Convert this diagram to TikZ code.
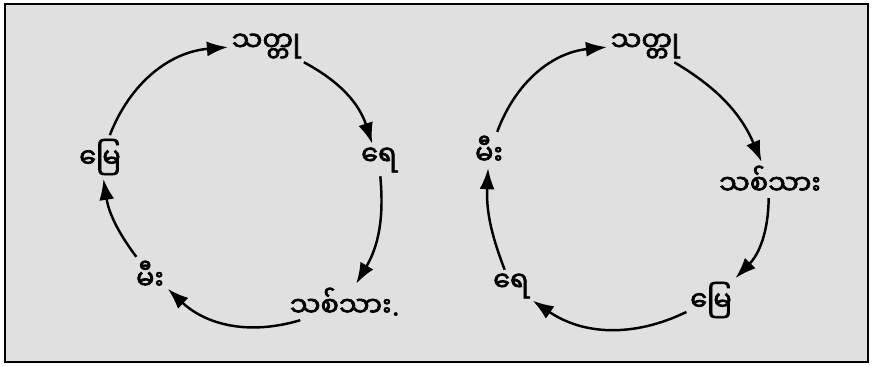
\documentclass[tikz,border=0pt]{standalone}
\usepackage{fontspec}
\newfontfamily\mmfont[Script=Myanmar,FakeBold=2.4]{Noto Sans Myanmar UI}
\usetikzlibrary{arrows.meta}

\begin{document}
\begin{tikzpicture}[x=0.2mm, y=-0.2mm,
    lbl/.style={font=\mmfont\fontsize{15.5}{17}\selectfont, inner sep=2pt},
    cyc/.style={-{Latex[length=4.2mm,width=3mm]}, line width=1.4pt}]
    % Paper and frame
    \fill[white] (0,0) rectangle (874,366);
    \draw[line width=1.2pt, fill=black!12] (5,4) rectangle (868,362);
    % Left cycle
    \node[lbl] (lmetal) at (266,46) {သတ္တု};
    \node[lbl] (lwater) at (379,160) {ရေ};
    \node[lbl] (lwood) at (345,302) {သစ်သား{\normalfont\bfseries .}};
    \node[lbl] (lfire) at (150,275) {မီး};
    \node[lbl] (learth) at (100,157) {မြေ};
    \draw[cyc] (learth) to[bend left=32] (lmetal);
    \draw[cyc] (lmetal) to[bend left=22] (lwater);
    \draw[cyc] (lwater) to[bend left=18] (lwood);
    \draw[cyc] (lwood) to[bend left=30] (lfire);
    \draw[cyc] (lfire) to[bend left=14] (learth);
    % Right cycle
    \node[lbl] (rmetal) at (645,46) {သတ္တု};
    \node[lbl] (rwood) at (770,180) {သစ်သား};
    \node[lbl] (rearth) at (711,300) {မြေ};
    \node[lbl] (rwater) at (511,286) {ရေ};
    \node[lbl] (rfire) at (489,150) {မီး};
    \draw[cyc] (rfire) to[bend left=32] (rmetal);
    \draw[cyc] (rmetal) to[bend left=18] (rwood);
    \draw[cyc] (rwood) to[bend left=22] (rearth);
    \draw[cyc] (rearth) to[bend left=30] (rwater);
    \draw[cyc] (rwater) to[bend left=12] (rfire);
\end{tikzpicture}
\end{document}
